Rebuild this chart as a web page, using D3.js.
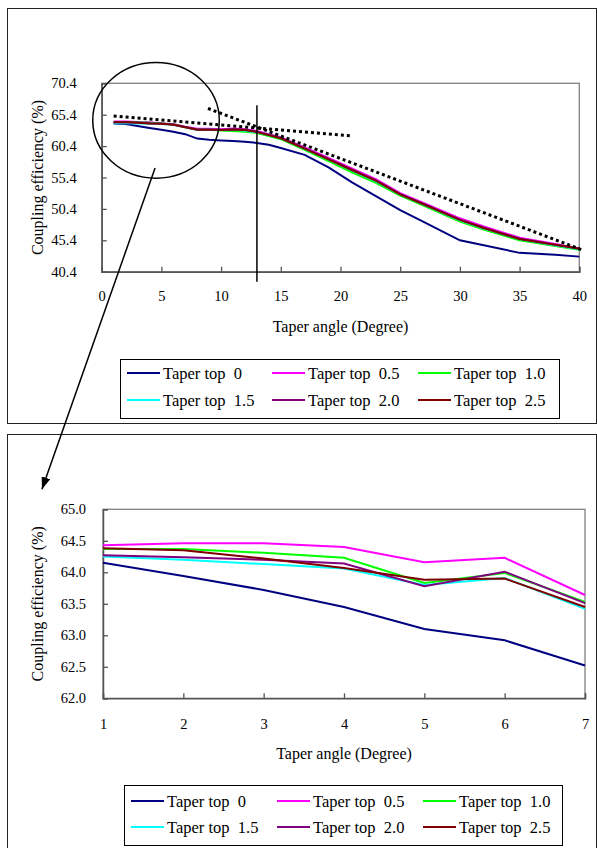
<!DOCTYPE html>
<html>
<head>
<meta charset="utf-8">
<script src="https://cdn.jsdelivr.net/npm/d3@7"></script>
<style>
  body { margin: 0; background: #fff; }
  svg text { font-family: "Liberation Serif", "DejaVu Serif", serif !important; fill: #000; }
</style>
</head>
<body>
<svg id="chart" width="597" height="848"></svg>
<script>
// series labels + colours (same for both panels)
var seriesNames = ["Taper top  0", "Taper top  0.5", "Taper top  1.0",
                   "Taper top  1.5", "Taper top  2.0", "Taper top  2.5"];
var seriesColors = ["#000080", "#ff00ff", "#00ff00", "#00ffff", "#800080", "#800000"];

// full range, 0..40 degree
var topAngles = [1, 2, 3, 4, 5, 6, 7, 8, 9, 10, 11, 12, 13, 14, 15, 17, 19, 21, 23, 25, 27, 30, 32, 35, 38, 40];
var topTaper0  = [64.0, 63.9, 63.6, 63.3, 63.0, 62.7, 62.3, 61.6, 61.4, 61.3, 61.2, 61.1, 60.9, 60.6, 60.1, 59.0, 57.0, 54.6, 52.4, 50.2, 48.3, 45.4, 44.6, 43.4, 43.1, 42.8];
var topTaper05 = [64.3, 64.3, 64.25, 64.2, 64.0, 63.9, 63.5, 63.15, 63.15, 63.1, 63.2, 63.1, 62.8, 62.3, 61.8, 60.2, 58.5, 56.8, 55.1, 52.9, 51.3, 48.9, 47.6, 45.8, 44.8, 44.1];
var topTaper10 = [64.25, 64.25, 64.2, 64.1, 64.0, 63.85, 63.4, 63.0, 63.0, 62.9, 62.8, 62.7, 62.5, 62.0, 61.5, 59.8, 58.0, 56.2, 54.5, 52.5, 50.9, 48.4, 47.1, 45.4, 44.5, 43.9];
var topTaper15 = [64.05, 64.05, 64.0, 63.95, 63.9, 63.8, 63.4, 63.0, 63.0, 62.95, 63.0, 62.9, 62.6, 62.2, 61.7, 60.0, 58.3, 56.5, 54.8, 52.7, 51.1, 48.6, 47.3, 45.6, 44.6, 44.0];
var topTaper20 = [64.2, 64.2, 64.15, 64.05, 64.0, 63.85, 63.45, 63.05, 63.05, 63.0, 63.1, 63.0, 62.7, 62.2, 61.7, 60.05, 58.35, 56.6, 54.9, 52.75, 51.15, 48.7, 47.4, 45.65, 44.7, 44.05];
var topTaper25 = [64.2, 64.2, 64.1, 64.0, 63.95, 63.8, 63.4, 63.0, 63.0, 62.95, 63.05, 62.95, 62.65, 62.15, 61.65, 60.0, 58.3, 56.55, 54.85, 52.7, 51.1, 48.65, 47.35, 45.6, 44.7, 44.1];

// zoomed range, 1..7 degree
var zoomAngles = [1, 2, 3, 4, 5, 6, 7];
var zoomTaper0  = [64.15, 63.94, 63.72, 63.45, 63.10, 62.92, 62.52];
var zoomTaper05 = [64.43, 64.46, 64.46, 64.40, 64.16, 64.23, 63.64];
var zoomTaper10 = [64.37, 64.37, 64.31, 64.23, 63.83, 63.99, 63.53];
var zoomTaper15 = [64.25, 64.20, 64.13, 64.06, 63.80, 63.91, 63.42];
var zoomTaper20 = [64.27, 64.24, 64.20, 64.14, 63.78, 64.01, 63.51];
var zoomTaper25 = [64.38, 64.35, 64.22, 64.07, 63.88, 63.90, 63.45];

var topXTicks = [0, 5, 10, 15, 20, 25, 30, 35, 40];
var topYTicks = [40.4, 45.4, 50.4, 55.4, 60.4, 65.4, 70.4];
var zoomXTicks = [1, 2, 3, 4, 5, 6, 7];
var zoomYTicks = [62.0, 62.5, 63.0, 63.5, 64.0, 64.5, 65.0];

// annotations on the top panel, in data units
var trendFlat = [[1, 65.2], [21, 62.0]];
var trendSteep = [[8.9, 66.4], [40.2, 43.9]];
var markerAngle = 13, markerSpan = [66.9, 38.8];
var circleX = [-0.75, 9.85], circleY = [55.3, 73.7];

var svg = d3.select("#chart");

svg.append("defs").append("marker")
    .attr("id", "arrow")
    .attr("markerUnits", "userSpaceOnUse")
    .attr("markerWidth", 13).attr("markerHeight", 9)
    .attr("refX", 12).attr("refY", 4.5)
    .attr("orient", "auto")
  .append("path")
    .attr("d", "M0,0L12,4.5L0,9Z")
    .attr("fill", "#000");

// outer frames
svg.append("rect").attr("x", 7.5).attr("y", 8.5).attr("width", 589).attr("height", 415)
    .attr("fill", "none").attr("stroke", "#222");
svg.append("rect").attr("x", 7.5).attr("y", 434.5).attr("width", 589).attr("height", 430)
    .attr("fill", "none").attr("stroke", "#222");

function drawPanel(p) {
  var x = d3.scaleLinear().domain(p.xDomain).range([p.left, p.right]);
  var y = d3.scaleLinear().domain(p.yDomain).range([p.bottom, p.top]);
  var g = svg.append("g");

  g.append("rect")
      .attr("x", p.left).attr("y", p.top)
      .attr("width", p.right - p.left).attr("height", p.bottom - p.top)
      .attr("fill", "none").attr("stroke", "#808080").attr("stroke-width", 1.3);

  var xAxis = g.append("g")
      .attr("transform", "translate(0," + p.bottom + ")")
      .call(d3.axisBottom(x).tickValues(p.xTicks).tickSize(-5).tickPadding(p.xPad)
        .tickFormat(d3.format("d")));
  var yAxis = g.append("g")
      .attr("transform", "translate(" + p.left + ",0)")
      .call(d3.axisLeft(y).tickValues(p.yTicks).tickSize(-5).tickPadding(p.yPad)
        .tickFormat(d3.format(".1f")));
  [xAxis, yAxis].forEach(function(a) {
    a.attr("font-family", null).attr("font-size", 14.5);
    a.select(".domain").attr("stroke", "#555").attr("stroke-width", 1.5);
    a.selectAll(".tick line").attr("stroke", "#555").attr("stroke-width", 1.3);
    a.selectAll(".tick text").attr("fill", "#000");
  });

  g.append("text")
      .attr("x", (p.left + p.right) / 2).attr("y", p.xTitleY)
      .attr("text-anchor", "middle").attr("font-size", 16)
      .text("Taper angle (Degree)");
  g.append("text")
      .attr("transform", "translate(" + p.yTitleX + "," + (p.top + p.bottom) / 2 + ") rotate(-90)")
      .attr("text-anchor", "middle").attr("dy", "0.35em").attr("font-size", 16)
      .text("Coupling efficiency (%)");

  var line = d3.line()
      .x(function(d) { return x(d[0]); })
      .y(function(d) { return y(d[1]); });

  p.series.forEach(function(vals, i) {
    g.append("path")
        .datum(p.angles.map(function(a, j) { return [a, vals[j]]; }))
        .attr("fill", "none")
        .attr("stroke", seriesColors[i])
        .attr("stroke-width", 2)
        .attr("d", line);
  });

  // legend
  var lg = g.append("g");
  lg.append("rect")
      .attr("x", p.legend.x + 0.5).attr("y", p.legend.y + 0.5)
      .attr("width", p.legend.w).attr("height", p.legend.h)
      .attr("fill", "#fff").attr("stroke", "#000");
  seriesNames.forEach(function(name, i) {
    var cx = p.legend.cols[i % 3], cy = p.legend.rows[Math.floor(i / 3)];
    lg.append("line")
        .attr("x1", cx).attr("x2", cx + 33).attr("y1", cy).attr("y2", cy)
        .attr("stroke", seriesColors[i]).attr("stroke-width", 2);
    lg.append("text")
        .attr("x", cx + 36).attr("y", cy).attr("dy", "0.35em")
        .attr("font-size", 16.5).style("white-space", "pre")
        .text(name);
  });

  return {x: x, y: y, g: g};
}

var topPanel = drawPanel({
  xDomain: [0, 40], yDomain: [40.4, 70.4],
  left: 101.7, right: 579.3, top: 83.3, bottom: 271.7,
  xTicks: topXTicks, yTicks: topYTicks, xPad: 19, yPad: 25,
  xTitleY: 332, yTitleX: 37,
  angles: topAngles,
  series: [topTaper0, topTaper05, topTaper10, topTaper15, topTaper20, topTaper25],
  legend: {x: 120, y: 359, w: 439, h: 59, cols: [127, 272, 418], rows: [373, 400]}
});

var zoomPanel = drawPanel({
  xDomain: [1, 7], yDomain: [62, 65],
  left: 103, right: 585, top: 509.3, bottom: 698.3,
  xTicks: zoomXTicks, yTicks: zoomYTicks, xPad: 20, yPad: 17,
  xTitleY: 759, yTitleX: 37,
  angles: zoomAngles,
  series: [zoomTaper0, zoomTaper05, zoomTaper10, zoomTaper15, zoomTaper20, zoomTaper25],
  legend: {x: 124, y: 785, w: 438, h: 60, cols: [131, 277, 423], rows: [801, 827]}
});

// annotations on the top panel
var tx = topPanel.x, ty = topPanel.y;
var dotted = d3.line().x(function(d) { return tx(d[0]); }).y(function(d) { return ty(d[1]); });
[trendFlat, trendSteep].forEach(function(seg) {
  svg.append("path").attr("d", dotted(seg))
      .attr("fill", "none").attr("stroke", "#000")
      .attr("stroke-width", 3).attr("stroke-dasharray", "3,3");
});

svg.append("line")
    .attr("x1", tx(markerAngle)).attr("x2", tx(markerAngle))
    .attr("y1", ty(markerSpan[0])).attr("y2", ty(markerSpan[1]))
    .attr("stroke", "#000").attr("stroke-width", 1.5);

svg.append("ellipse")
    .attr("cx", (tx(circleX[0]) + tx(circleX[1])) / 2)
    .attr("cy", (ty(circleY[0]) + ty(circleY[1])) / 2)
    .attr("rx", (tx(circleX[1]) - tx(circleX[0])) / 2)
    .attr("ry", (ty(circleY[0]) - ty(circleY[1])) / 2)
    .attr("fill", "none").attr("stroke", "#000").attr("stroke-width", 1.5);

// arrow from the circle down to the zoomed panel
svg.append("line")
    .attr("x1", tx(4.47)).attr("y1", ty(56.9))
    .attr("x2", zoomPanel.x(0.24)).attr("y2", zoomPanel.y(65.32))
    .attr("stroke", "#000").attr("stroke-width", 1.5)
    .attr("marker-end", "url(#arrow)");
</script>
</body>
</html>
